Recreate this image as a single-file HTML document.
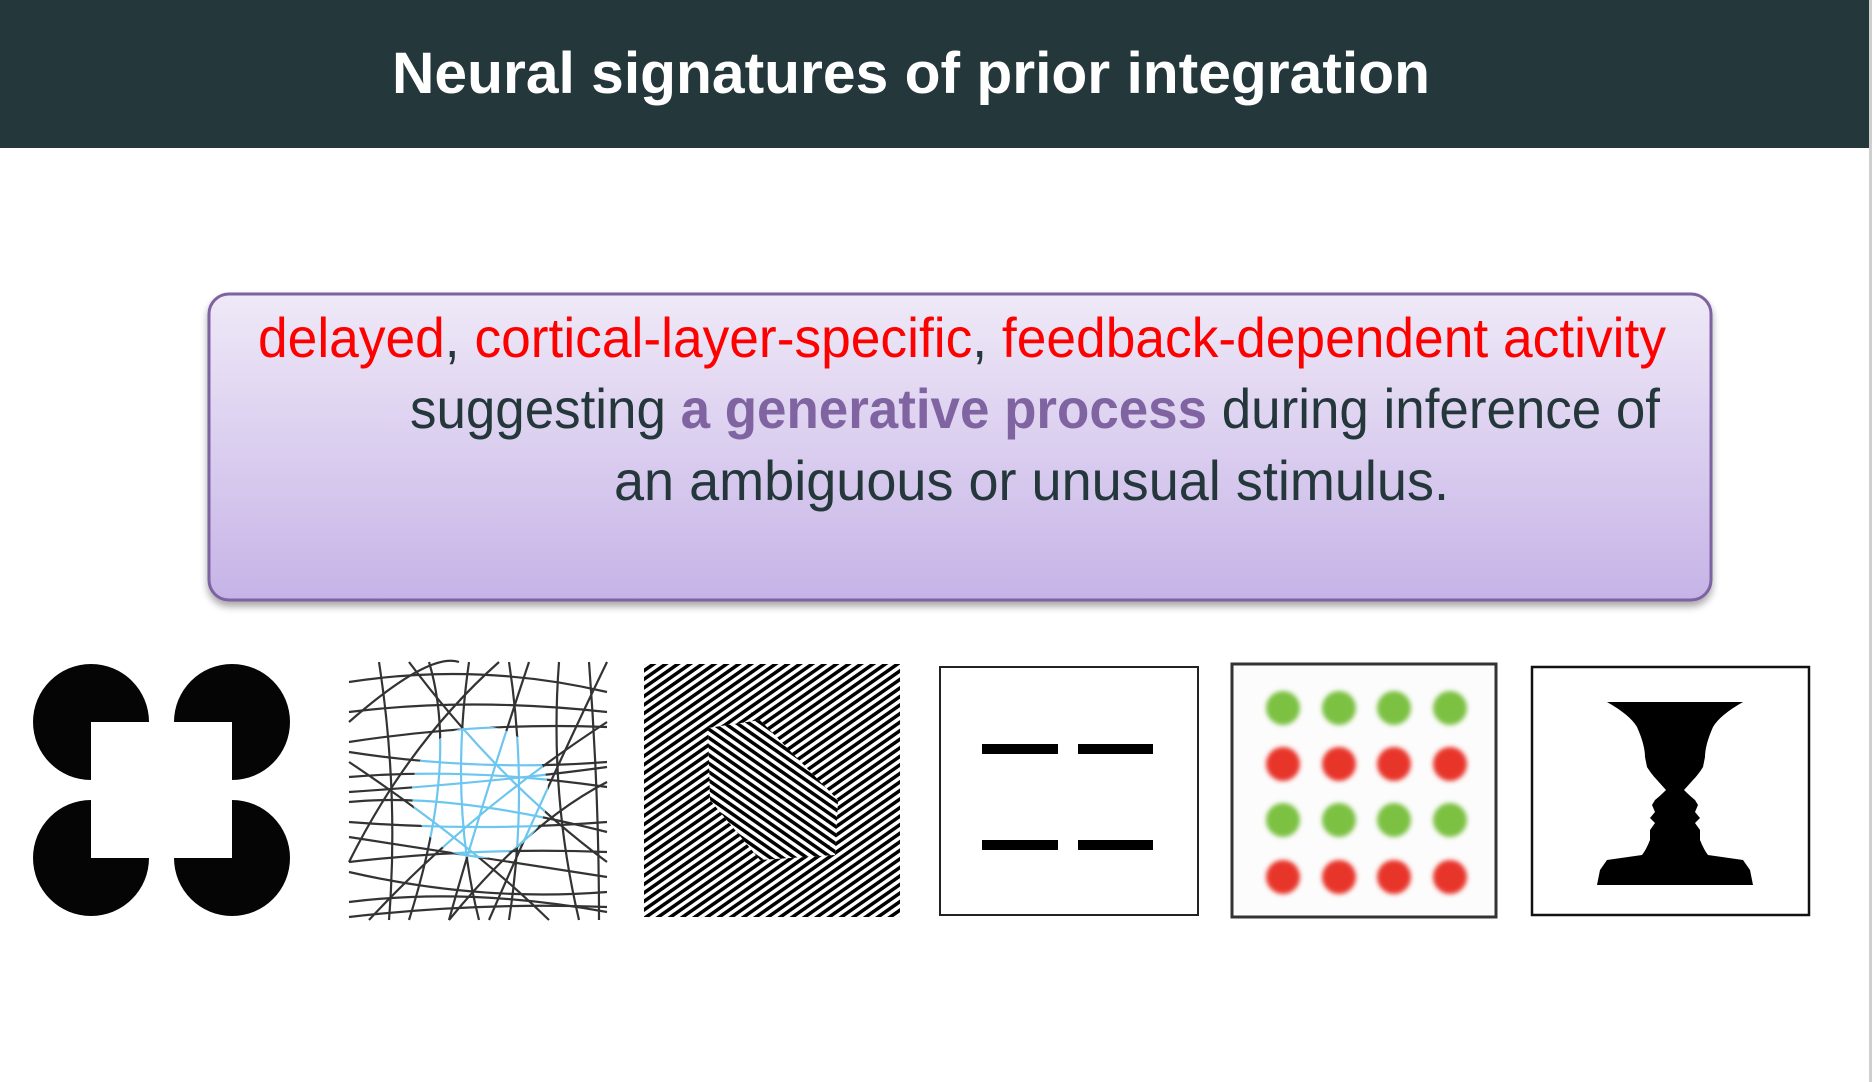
<!DOCTYPE html>
<html><head><meta charset="utf-8"><style>html,body{margin:0;padding:0;background:#fff}svg{display:block}</style></head>
<body>
<svg width="1872" height="1082" viewBox="0 0 1872 1082" xmlns="http://www.w3.org/2000/svg">
<defs>
<linearGradient id="bg" x1="0" y1="0" x2="0" y2="1"><stop offset="0" stop-color="#efe9f7"/><stop offset="1" stop-color="#c6b3e7"/></linearGradient>
<filter id="sh" x="-5%" y="-10%" width="110%" height="130%"><feGaussianBlur in="SourceAlpha" stdDeviation="4"/><feOffset dy="5"/><feComponentTransfer><feFuncA type="linear" slope="0.35"/></feComponentTransfer><feMerge><feMergeNode/><feMergeNode in="SourceGraphic"/></feMerge></filter>
<filter id="blur"><feGaussianBlur stdDeviation="2.5"/></filter>
<pattern id="p1" width="7" height="7" patternUnits="userSpaceOnUse" patternTransform="rotate(-35)"><rect width="7" height="3.5" fill="#000"/></pattern>
<pattern id="p2" width="7" height="7" patternUnits="userSpaceOnUse" patternTransform="rotate(35)"><rect width="7" height="3.5" fill="#000"/></pattern>
<clipPath id="blueclip"><ellipse cx="131" cy="130" rx="68" ry="66"/></clipPath>
<g id="lines" fill="none" stroke-width="2.2">
<path d="M0,20 Q130,0 258,30"/><path d="M0,50 Q120,35 258,50"/><path d="M0,80 Q130,60 258,65"/><path d="M0,90 Q130,110 258,100"/><path d="M0,115 Q120,105 258,125"/><path d="M0,140 Q100,130 258,170"/><path d="M0,130 Q150,120 258,105"/><path d="M0,160 Q130,170 258,160"/><path d="M0,175 Q130,195 258,215"/><path d="M0,200 Q130,185 258,190"/><path d="M0,210 Q130,240 258,230"/><path d="M0,240 Q120,225 258,250"/><path d="M0,255 Q130,240 258,245"/>
<path d="M30,0 Q50,130 40,258"/><path d="M80,0 Q110,100 60,258"/><path d="M120,0 Q100,140 130,258"/><path d="M160,0 Q180,130 160,258"/><path d="M210,0 Q200,130 230,258"/><path d="M240,0 Q250,130 250,258"/><path d="M0,60 Q80,-10 110,0"/><path d="M0,200 Q60,80 150,0"/><path d="M20,258 Q120,150 258,60"/><path d="M100,258 Q180,160 258,120"/><path d="M0,100 Q120,180 200,258"/><path d="M60,0 Q150,120 258,200"/><path d="M180,0 Q130,150 100,258"/><path d="M140,258 Q200,120 258,0"/>
</g>
</defs>
<rect x="0" y="0" width="1869" height="148" fill="#24373b"/>
<rect x="1869" y="0" width="3" height="1082" fill="#cfcfcf"/>
<text x="392" y="93" textLength="1038" lengthAdjust="spacingAndGlyphs" font-family="Liberation Sans, sans-serif" font-weight="bold" font-size="58" fill="#fff">Neural signatures of prior integration</text>

<rect x="209" y="294" width="1502" height="306" rx="20" fill="url(#bg)" stroke="#7e64a2" stroke-width="3" filter="url(#sh)"/>
<g font-family="Liberation Sans, sans-serif" font-size="56">
<text x="258" y="357" textLength="1408" lengthAdjust="spacingAndGlyphs" fill="#fe0000">delayed<tspan fill="#24373b">, </tspan>cortical-layer-specific<tspan fill="#24373b">, </tspan>feedback-dependent activity</text>
<text x="410" y="428" textLength="1250" lengthAdjust="spacingAndGlyphs" fill="#24373b">suggesting <tspan fill="#8064a2" font-weight="bold">a generative process</tspan> during inference of</text>
<text x="614" y="500" textLength="835" lengthAdjust="spacingAndGlyphs" fill="#24373b">an ambiguous or unusual stimulus.</text>
</g>

<!-- Kanizsa -->
<g fill="#050505">
<circle cx="91" cy="722" r="58"/><circle cx="232" cy="722" r="58"/><circle cx="91" cy="858" r="58"/><circle cx="232" cy="858" r="58"/>
</g>
<rect x="91" y="722" width="141" height="136" fill="#fff"/>

<!-- lines -->
<g transform="translate(349,662)">
<use href="#lines" stroke="#333"/>
<g clip-path="url(#blueclip)"><rect x="60" y="60" width="150" height="150" fill="#fff"/><use href="#lines" stroke="#6cc6ef"/></g>
</g>

<!-- texture -->
<rect x="644" y="664" width="256" height="253" fill="url(#p1)"/>
<polygon points="708,728 760,720 838,800 835,855 760,860 710,800" fill="#fff"/>
<polygon points="708,728 760,720 838,800 835,855 760,860 710,800" fill="url(#p2)"/>

<!-- dashes -->
<rect x="940" y="667" width="258" height="248" fill="#fff" stroke="#222" stroke-width="2"/>
<rect x="982" y="744" width="76" height="10" fill="#000"/><rect x="1078" y="744" width="75" height="10" fill="#000"/>
<rect x="982" y="840" width="76" height="10" fill="#000"/><rect x="1078" y="840" width="75" height="10" fill="#000"/>

<!-- dots -->
<rect x="1232" y="664" width="264" height="253" fill="#fcfcfc" stroke="#333" stroke-width="3"/>
<g filter="url(#blur)">
<g fill="#7bc142"><circle cx="1283" cy="708" r="17"/><circle cx="1339" cy="708" r="17"/><circle cx="1394" cy="708" r="17"/><circle cx="1450" cy="708" r="17"/>
<circle cx="1283" cy="820" r="17"/><circle cx="1339" cy="820" r="17"/><circle cx="1394" cy="820" r="17"/><circle cx="1450" cy="820" r="17"/></g>
<g fill="#e8342a"><circle cx="1283" cy="764" r="17"/><circle cx="1339" cy="764" r="17"/><circle cx="1394" cy="764" r="17"/><circle cx="1450" cy="764" r="17"/>
<circle cx="1283" cy="877" r="17"/><circle cx="1339" cy="877" r="17"/><circle cx="1394" cy="877" r="17"/><circle cx="1450" cy="877" r="17"/></g>
</g>

<!-- vase -->
<rect x="1532" y="667" width="277" height="248" fill="#fff" stroke="#111" stroke-width="2.5"/>
<path fill="#000" d="M1607,702 L1743,702 Q1720,715 1713,727 Q1705,745 1705,757 L1703,767 Q1698,775 1693,780 L1684,790 Q1690,796 1695,800 L1698,805 L1695,812 L1700,818 L1695,823 L1700,830 L1700,840 Q1704,850 1708,855 L1743,860 L1750,870 L1753,885 L1597,885 L1600,870 L1607,860 L1642,855 Q1646,850 1650,840 L1650,830 L1655,823 L1650,818 L1655,812 L1652,805 L1655,800 Q1660,796 1666,790 L1657,780 Q1652,775 1647,767 L1645,757 Q1645,745 1637,727 Q1630,715 1607,702 Z"/>
</svg>
</body></html>
